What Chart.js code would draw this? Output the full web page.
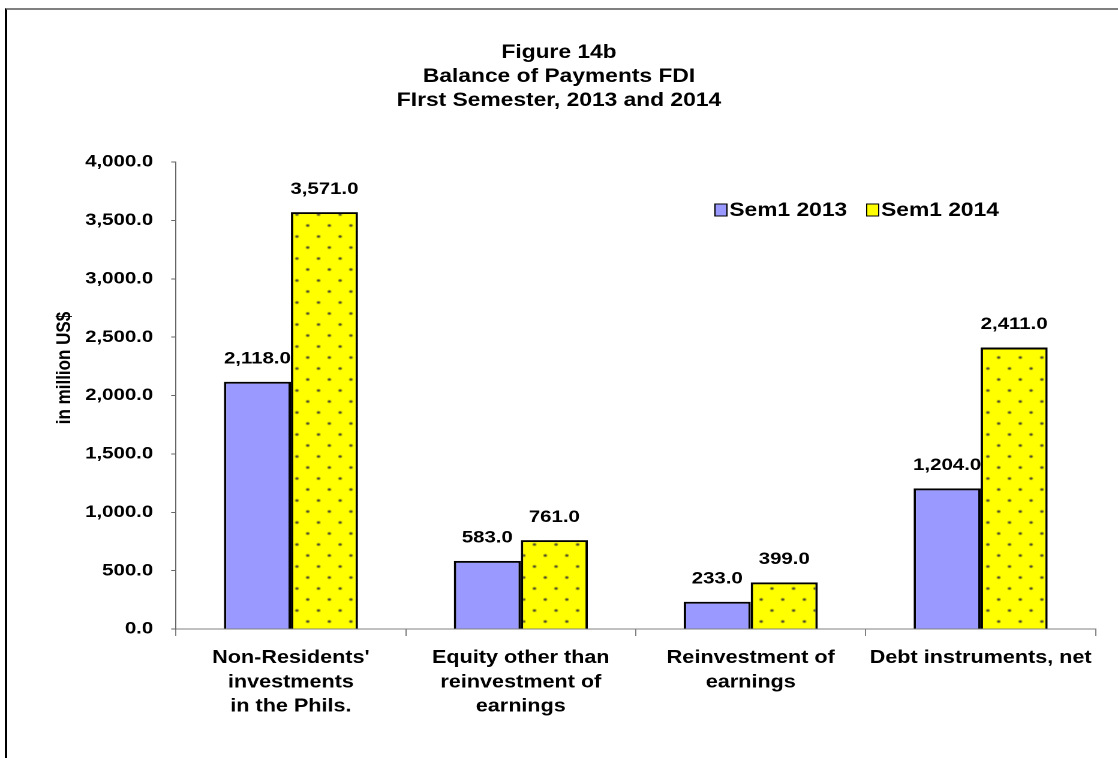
<!DOCTYPE html>
<html lang="en">
<head>
<meta charset="UTF-8" />
<title>Figure 14b</title>
<style>
  body { margin: 0; background: #fff; overflow: hidden; }
  #frame {
    position: absolute; left: 5px; top: 8px; width: 1113px; height: 750px;
    border-top: 2px solid #808080; border-left: 2px solid #000; box-sizing: border-box;
  }
  /* original picture is stretched horizontally, so draw narrow and stretch */
  #wrap {
    position: absolute; left: 0; top: 0; width: 932px; height: 758px;
    transform: scaleX(1.19957); transform-origin: 0 0;
  }
</style>
<script src="https://cdn.jsdelivr.net/npm/chart.js"></script>
</head>
<body>
<div id="frame"></div>
<div id="wrap"><canvas id="fdiChart" width="932" height="758"></canvas></div>

<script>
  const titleLines = ['Figure 14b', 'Balance of Payments FDI', 'FIrst Semester, 2013 and 2014'];
  const yTitle = 'in million US$';
  const categories = [
    ["Non-Residents'", 'investments', 'in the Phils.'],
    ['Equity other than', 'reinvestment of', 'earnings'],
    ['Reinvestment of', 'earnings'],
    'Debt instruments, net'
  ];
  const sem2013 = [2118.0, 583.0, 233.0, 1204.0];
  const sem2014 = [3571.0, 761.0, 399.0, 2411.0];
  const yMin = 0, yMax = 4000, yStep = 500;

  const FONT = "'Liberation Sans', Arial, Helvetica, sans-serif";
  const fmt = v => v.toLocaleString('en-US', { minimumFractionDigits: 1, maximumFractionDigits: 1 });

  function dotPattern() {
    const c = document.createElement('canvas');
    c.width = 18; c.height = 22;
    const p = c.getContext('2d');
    p.fillStyle = '#ffff00';
    p.fillRect(0, 0, 18, 22);
    p.fillStyle = '#333';
    [[4.5, 5.5], [13.5, 16.5]].forEach(([x, y]) => {
      p.beginPath(); p.arc(x, y, 1.3, 0, Math.PI * 2); p.fill();
    });
    return p.createPattern(c, 'repeat');
  }

  const extras = {
    id: 'extras',
    afterDatasetsDraw(chart) {
      const ctx = chart.ctx;
      ctx.save();
      ctx.fillStyle = '#000';
      ctx.textAlign = 'center';
      ctx.textBaseline = 'middle';
      // value labels
      ctx.font = 'bold 17px ' + FONT;
      chart.data.datasets.forEach((ds, i) => {
        chart.getDatasetMeta(i).data.forEach((bar, j) => {
          ctx.fillText(fmt(ds.data[j]), bar.x, bar.y - 23);
        });
      });
      // title
      ctx.font = 'bold 19px ' + FONT;
      titleLines.forEach((t, k) => ctx.fillText(t, chart.width / 2, 53 + k * 24));
      // y axis title, sits a bit above the middle of the axis
      ctx.save();
      ctx.font = 'bold 17px ' + FONT;
      ctx.translate(54, 368);
      ctx.rotate(-Math.PI / 2);
      ctx.fillText(yTitle, 0, 0);
      ctx.restore();
      // legend
      ctx.font = 'bold 19px ' + FONT;
      ctx.textAlign = 'left';
      const lx = [596, 722.5];
      chart.data.datasets.forEach((ds, i) => {
        ctx.fillStyle = ds.legendColor;
        ctx.fillRect(lx[i], 204, 10, 12);
        ctx.lineWidth = 1;
        ctx.strokeStyle = '#000';
        ctx.strokeRect(lx[i], 204, 10, 12);
        ctx.fillStyle = '#000';
        ctx.fillText(ds.label, lx[i] + 12, 211);
      });
      ctx.restore();
    }
  };

  const ctx = document.getElementById('fdiChart').getContext('2d');
  new Chart(ctx, {
    type: 'bar',
    data: {
      labels: categories,
      datasets: [
        { label: 'Sem1 2013', data: sem2013, backgroundColor: '#9999ff', legendColor: '#9999ff',
          borderColor: '#000', borderWidth: 2 },
        { label: 'Sem1 2014', data: sem2014, backgroundColor: dotPattern(), legendColor: '#ffff00',
          borderColor: '#000', borderWidth: 2 }
      ]
    },
    options: {
      responsive: false,
      animation: false,
      devicePixelRatio: 2,
      categoryPercentage: 0.583,
      barPercentage: 1.0,
      layout: { padding: { top: 162, right: 18.7, bottom: 0, left: 40 } },
      plugins: {
        legend: { display: false },
        title: { display: false },
        tooltip: { enabled: false }
      },
      scales: {
        x: {
          grid: { offset: true, drawOnChartArea: false, tickLength: 7, color: '#808080' },
          border: { color: '#808080', width: 1 },
          ticks: {
            color: '#000', padding: 10, maxRotation: 0, autoSkip: false,
            font: { family: FONT, size: 18, weight: 'bold', lineHeight: 1.35 }
          },
          afterFit(scale) { scale.height = 129; }
        },
        y: {
          min: yMin, max: yMax,
          grid: { drawOnChartArea: false, tickLength: 4, color: '#666' },
          border: { color: '#666', width: 1 },
          ticks: {
            stepSize: yStep, color: '#000', padding: 15,
            font: { family: FONT, size: 17, weight: 'bold' },
            callback: v => fmt(v)
          },
          afterFit(scale) { scale.width = 106.7; }
        }
      }
    },
    plugins: [extras]
  });
</script>
</body>
</html>
